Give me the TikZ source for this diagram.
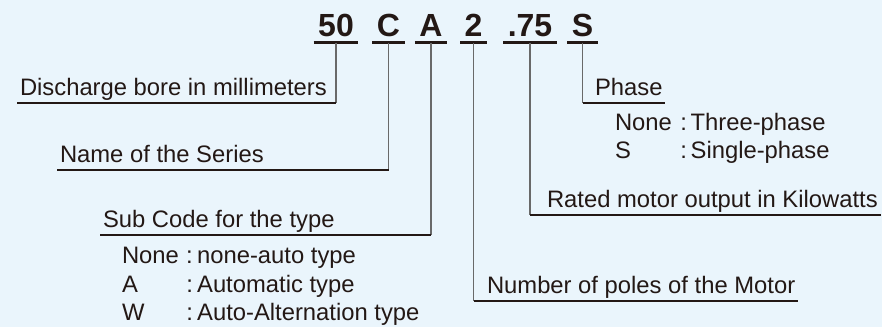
\documentclass[tikz,border=0pt]{standalone}
\usepackage{fontspec}
\setmainfont{Liberation Sans}
\usetikzlibrary{calc}
\usepackage{xcolor}
\definecolor{bgblue}{RGB}{234,245,252}
\definecolor{inkdark}{RGB}{35,24,21}
\definecolor{stemgray}{RGB}{105,105,105}

\begin{document}
\begin{tikzpicture}[x=1pt, y=-1pt]
        % ================= styles =================
        \tikzset{
            % bold code letters on top
            codenode/.style={anchor=base, font=\fontsize{32}{36}\selectfont\bfseries, text=inkdark, inner xsep=4.5pt, inner ysep=0pt, text depth=6.5pt, outer sep=0pt},
            % underlined explanation labels
            lblnode/.style={anchor=base west, font=\fontsize{23.8}{28}\selectfont, text=inkdark, inner xsep=3pt, inner ysep=3pt, text depth=5pt, outer sep=0pt},
            % plain list lines under a label
            listnode/.style={anchor=base west, font=\fontsize{23.8}{28}\selectfont, text=inkdark, inner sep=0pt, outer sep=0pt},
            % thin vertical stems
            stem/.style={line width=1.1pt, stemgray},
            % dark underlines
            uline/.style={line width=2pt, inkdark},
            codeline/.style={line width=2.2pt, inkdark}
        }

        % ================= background =================
        \fill[bgblue] (0,0) rectangle (882,327);
        \useasboundingbox (0,0) rectangle (882,327);

        % ================= model code =================
        \node[codenode] (c50) at (336,36) {50};
        \node[codenode] (cC) at (388.5,36) {C};
        \node[codenode] (cA) at (431,36) {A};
        \node[codenode] (c2) at (473.5,36) {2};
        \node[codenode] (c75) at (530,36) {.75};
        \node[codenode] (cS) at (582.5,36) {S};

        \draw[codeline] (c50.south west) -- (c50.south east);
        \draw[codeline] (cC.south west) -- (cC.south east);
        \draw[codeline] (cA.south west) -- (cA.south east);
        \draw[codeline] (c2.south west) -- (c2.south east);
        \draw[codeline] (c75.south west) -- (c75.south east);
        \draw[codeline] (cS.south west) -- (cS.south east);

        % ================= labels =================
        \node[lblnode] (lBore) at (17,95) {Discharge bore in millimeters};
        \node[lblnode] (lSeries) at (57,162) {Name of the Series};
        \node[lblnode] (lSub) at (100,227) {Sub Code for the type};
        \node[listnode] (sNone) at (122,263) {\makebox[2.7em][l]{None}:\hspace{0.18em}none-auto type};
        \node[listnode] (sA) at (122,292) {\makebox[2.7em][l]{A}:\hspace{0.18em}Automatic type};
        \node[listnode] (sW) at (122,320) {\makebox[2.7em][l]{W}:\hspace{0.18em}Auto-Alternation type};

        \node[lblnode] (lPoles) at (484,293) {Number of poles of the Motor};
        \node[lblnode] (lOutput) at (544,207) {Rated motor output in Kilowatts};
        \node[lblnode] (lPhase) at (592,95) {Phase};
        \node[listnode] (pNone) at (615,130) {\makebox[2.75em][l]{None}:\hspace{0.15em}Three-phase};
        \node[listnode] (pS) at (615,158) {\makebox[2.75em][l]{S}:\hspace{0.15em}Single-phase};

        % ================= connectors (left side) =================
        \draw[stem] (c50.south) -- (c50.south |- lBore.south);
        \draw[uline] (lBore.south west) -- (c50.south |- lBore.south);
        \draw[stem] (cC.south) -- (cC.south |- lSeries.south);
        \draw[uline] (lSeries.south west) -- (cC.south |- lSeries.south);
        \draw[stem] (cA.south) -- (cA.south |- lSub.south);
        \draw[uline] (lSub.south west) -- (cA.south |- lSub.south);

        % ================= connectors (right side) =================
        \draw[stem] (c2.south) -- (c2.south |- lPoles.south);
        \draw[uline] (c2.south |- lPoles.south) -- (lPoles.south east);
        \draw[stem] (c75.south) -- (c75.south |- lOutput.south);
        \draw[uline] (c75.south |- lOutput.south) -- (lOutput.south east);
        \draw[stem] (cS.south) -- (cS.south |- lPhase.south);
        \draw[uline] (cS.south |- lPhase.south) -- (lPhase.south east);

\end{tikzpicture}
\end{document}
